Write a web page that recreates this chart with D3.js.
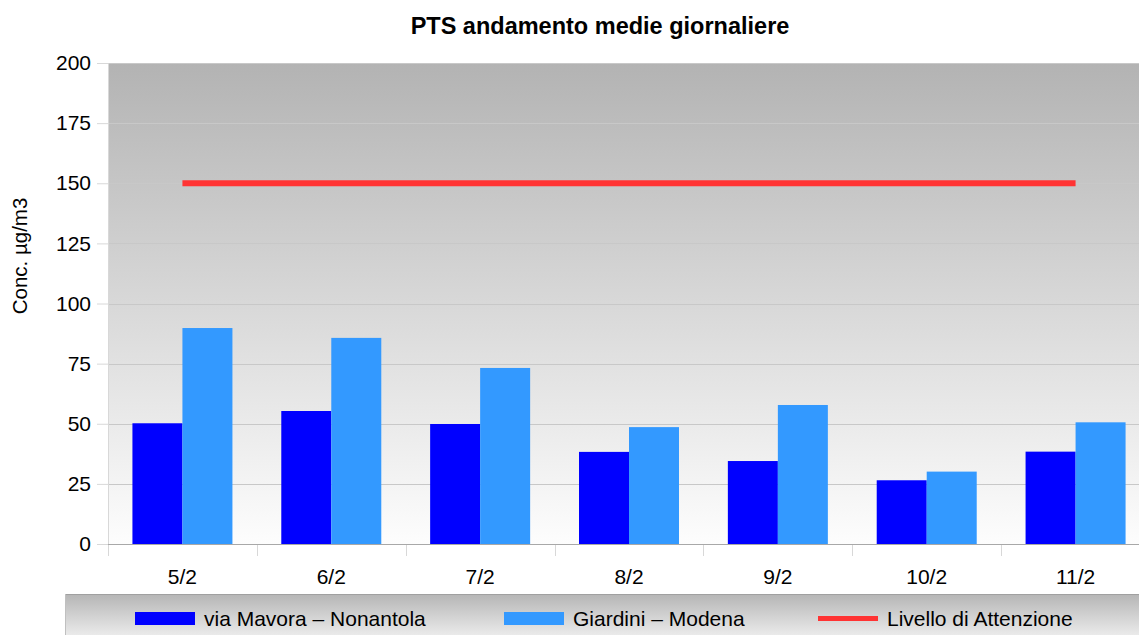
<!DOCTYPE html>
<html>
<head>
<meta charset="utf-8">
<script src="https://cdn.jsdelivr.net/npm/d3@7"></script>
<style>
  html, body { margin: 0; padding: 0; background: #fff; }
  svg { display: block; font-family: "Liberation Sans", Arial, sans-serif; }
</style>
</head>
<body>
<svg id="chart" width="1139" height="635"></svg>
<script>
// Daily mean PTS concentrations (µg/m3)
const days = ["5/2", "6/2", "7/2", "8/2", "9/2", "10/2", "11/2"];
const mavora = [50.2, 55.3, 49.9, 38.3, 34.5, 26.5, 38.4];
const giardini = [89.8, 85.7, 73.2, 48.6, 57.8, 30.1, 50.6];
const attention = [150, 150, 150, 150, 150, 150, 150];
const yTicks = [0, 25, 50, 75, 100, 125, 150, 175, 200];
const seriesNames = ["via Mavora – Nonantola", "Giardini – Modena", "Livello di Attenzione"];
const seriesColors = ["#0000ff", "#3399ff", "#ff3333"];

const svg = d3.select("#chart");
const m = { left: 108, top: 63, right: 1150, bottom: 544 };
const fs = 21;

const defs = svg.append("defs");
const bg = defs.append("linearGradient").attr("id", "plotBg")
  .attr("x1", 0).attr("y1", 0).attr("x2", 0).attr("y2", 1);
bg.append("stop").attr("offset", "0%").attr("stop-color", "#b3b3b3");
bg.append("stop").attr("offset", "100%").attr("stop-color", "#fdfdfd");
const lg = defs.append("linearGradient").attr("id", "legBg")
  .attr("x1", 0).attr("y1", 0).attr("x2", 0).attr("y2", 1);
lg.append("stop").attr("offset", "0%").attr("stop-color", "#b5b5b5");
lg.append("stop").attr("offset", "100%").attr("stop-color", "#f6f6f6");

const x = d3.scaleBand().domain(days).range([m.left, m.right]).padding(0);
const y = d3.scaleLinear().domain([0, 200]).range([m.bottom, m.top]);

// Plot background
svg.append("rect")
  .attr("x", m.left).attr("y", m.top)
  .attr("width", m.right - m.left).attr("height", m.bottom - m.top)
  .attr("fill", "url(#plotBg)");

// Horizontal grid
svg.append("g").selectAll("line").data(yTicks.filter(d => d > 0)).join("line")
  .attr("x1", m.left).attr("x2", m.right)
  .attr("y1", d => Math.round(y(d)) + 0.5).attr("y2", d => Math.round(y(d)) + 0.5)
  .attr("stroke", "#c8c8c8").attr("stroke-width", 1);

// Y axis
const yAxis = svg.append("g").attr("transform", `translate(${m.left},0)`)
  .call(d3.axisLeft(y).tickValues(yTicks).tickSize(11).tickPadding(6));
yAxis.select(".domain").attr("stroke", "#d8d8d8");
yAxis.selectAll(".tick line").attr("stroke", "#d8d8d8");
yAxis.selectAll(".tick text").attr("font-size", fs).attr("fill", "#000")
  .attr("font-family", "Liberation Sans, Arial, sans-serif");

// X axis: ticks at category boundaries
const xg = svg.append("g").attr("transform", `translate(0,${m.bottom})`);
xg.append("line").attr("x1", m.left).attr("x2", m.right)
  .attr("y1", 0.5).attr("y2", 0.5).attr("stroke", "#a8a8a8");
xg.selectAll("line.b").data(days).join("line").attr("class", "b")
  .attr("x1", d => Math.round(x(d)) + 0.5).attr("x2", d => Math.round(x(d)) + 0.5)
  .attr("y1", 1).attr("y2", 12).attr("stroke", "#d8d8d8");
xg.selectAll("text").data(days).join("text")
  .attr("x", d => x(d) + x.bandwidth() / 2).attr("y", 40)
  .attr("text-anchor", "middle").attr("font-size", fs).attr("fill", "#000")
  .text(d => d);

// Bars
const barW = 50;
const bars = svg.append("g");
bars.selectAll("rect.m").data(days).join("rect").attr("class", "m")
  .attr("x", d => x(d) + x.bandwidth() / 2 - barW)
  .attr("y", (d, i) => y(mavora[i]))
  .attr("width", barW)
  .attr("height", (d, i) => y(0) - y(mavora[i]))
  .attr("fill", seriesColors[0]);
bars.selectAll("rect.g").data(days).join("rect").attr("class", "g")
  .attr("x", d => x(d) + x.bandwidth() / 2)
  .attr("y", (d, i) => y(giardini[i]))
  .attr("width", barW)
  .attr("height", (d, i) => y(0) - y(giardini[i]))
  .attr("fill", seriesColors[1]);

// Attention threshold line
const line = d3.line()
  .x((d, i) => x(days[i]) + x.bandwidth() / 2)
  .y(d => y(d));
svg.append("path").datum(attention)
  .attr("d", line).attr("fill", "none")
  .attr("stroke", seriesColors[2]).attr("stroke-width", 6);

// Title
svg.append("text").attr("x", 600).attr("y", 34).attr("text-anchor", "middle")
  .attr("font-size", 23.5).attr("font-weight", "bold").attr("fill", "#000")
  .text("PTS andamento medie giornaliere");

// Y axis title
svg.append("text")
  .attr("transform", "translate(27,256) rotate(-90)")
  .attr("text-anchor", "middle").attr("font-size", 20.5).attr("fill", "#000")
  .text("Conc. µg/m3");

// Legend
const leg = svg.append("g");
leg.append("rect").attr("x", 65).attr("y", 594).attr("width", 1090).attr("height", 50)
  .attr("fill", "url(#legBg)");
leg.append("line").attr("x1", 65).attr("x2", 1139).attr("y1", 594.5).attr("y2", 594.5)
  .attr("stroke", "#a0a0a0");
leg.append("line").attr("x1", 65.5).attr("x2", 65.5).attr("y1", 594).attr("y2", 635)
  .attr("stroke", "#c0c0c0");
const legX = [135, 504, 818];
seriesNames.forEach((name, i) => {
  if (i < 2) {
    leg.append("rect").attr("x", legX[i]).attr("y", 612).attr("width", 60).attr("height", 13)
      .attr("fill", seriesColors[i]);
  } else {
    leg.append("line").attr("x1", legX[i]).attr("x2", legX[i] + 60)
      .attr("y1", 618.5).attr("y2", 618.5)
      .attr("stroke", seriesColors[i]).attr("stroke-width", 5);
  }
  leg.append("text").attr("x", legX[i] + 69).attr("y", 626)
    .attr("font-size", fs).attr("fill", "#000").text(name);
});
</script>
</body>
</html>
